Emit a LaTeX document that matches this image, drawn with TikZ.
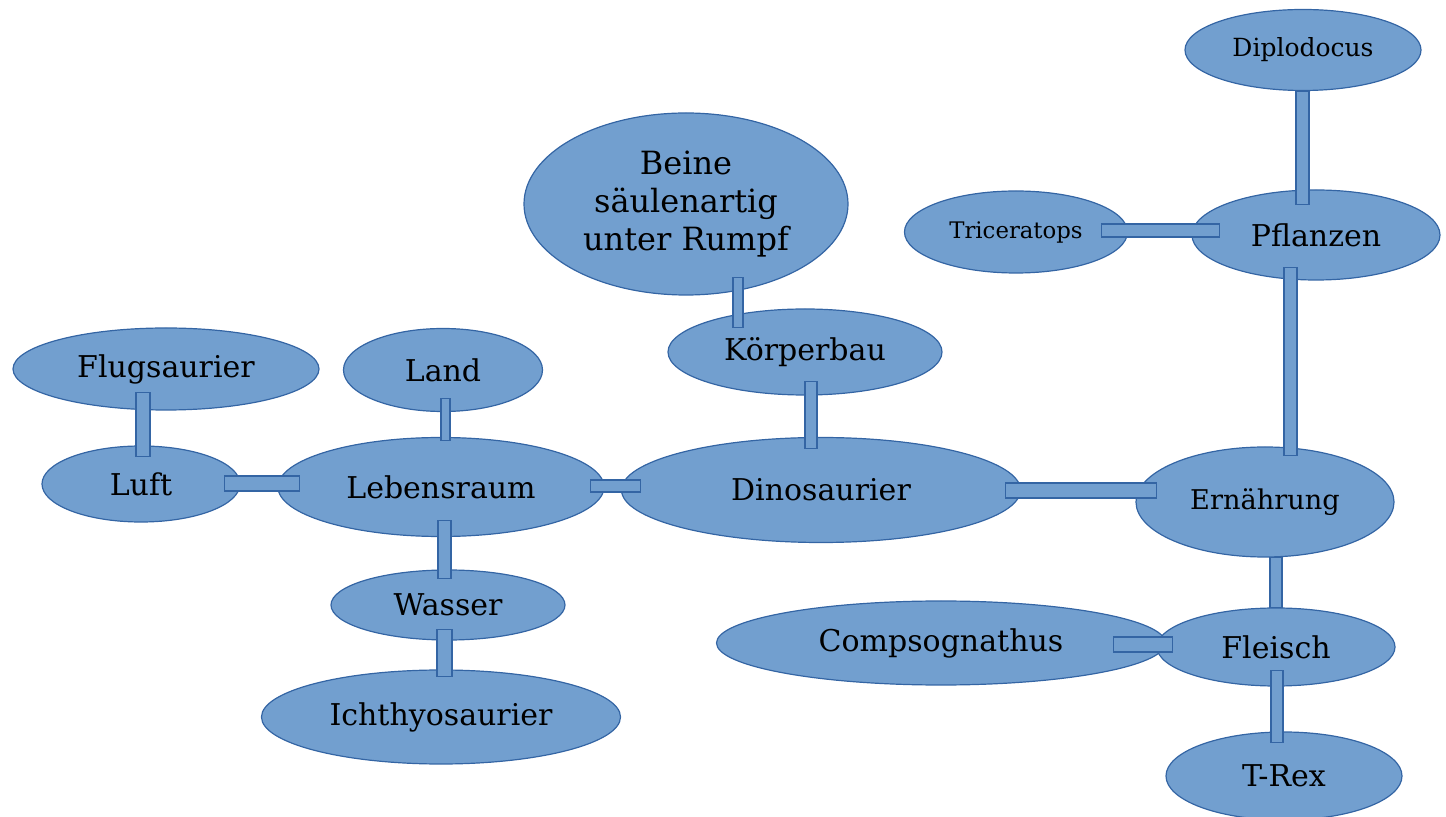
\documentclass[tikz,border=0pt]{standalone}
\usepackage{fontspec}
\setmainfont{DejaVu Serif}
\usetikzlibrary{shapes.geometric,calc}

\definecolor{blobfill}{HTML}{729FCF}
\definecolor{blobline}{HTML}{3465A4}

\tikzset{
    blob/.style={ellipse, draw=blobline, fill=blobfill, line width=0.6pt, inner sep=0pt,
        font=\fontsize{15}{18.5}\selectfont},
    dims/.style 2 args={minimum width=#1*0.5pt, minimum height=#2*0.5pt},
    smalltext/.style={font=\fontsize{#1}{18.8}\selectfont},
    bar/.style={draw=blobline, fill=blobfill, line width=0.6pt}
}

\begin{document}
\begin{tikzpicture}[x=0.5pt,y=-0.5pt]
    \useasboundingbox (0,0) rectangle (1446,817);

    % ellipses
    \node[blob,dims={236}{81},smalltext=12.5] (diplo) at (1303,50) {Diplodocus};
    \node[blob,dims={223}{82},smalltext=11.4] (trice) at (1016,232) {Triceratops};
    \node[blob,dims={248}{90}] (pflanzen) at (1316,235) {Pflanzen};
    \node[blob,dims={324}{182},align=center,smalltext=16] (beine) at (686,204) {Beine\\säulenartig\\unter Rumpf};
    \node[blob,dims={274}{86}] (koerper) at (805,352) {Körperbau};
    \node[blob,dims={306}{82}] (flug) at (166,369) {Flugsaurier};
    \node[blob,dims={199}{83}] (land) at (443,370) {Land};
    \node[blob,dims={198}{76}] (luft) at (141,484) {Luft};
    \node[blob,dims={326}{99}] (leben) at (441,487) {Lebensraum};
    \node[blob,dims={399}{105}] (dino) at (821,490) {Dinosaurier};
    \node[blob,dims={258}{110},smalltext=13.6] (ern) at (1265,502) {Ernährung};
    \node[blob,dims={234}{70}] (wasser) at (448,605) {Wasser};
    \node[blob,dims={359}{94}] (ichthy) at (441,717) {Ichthyosaurier};
    \node[blob,dims={449}{84}] (compso) at (941,643) {Compsognathus};
    \node[blob,dims={238}{78}] (fleisch) at (1276,647) {Fleisch};
    \node[blob,dims={236}{88}] (trex) at (1284,776) {T-Rex};

    % bars
    \draw[bar] ($(diplo.south)+(-7,0)$) rectangle ($(pflanzen.north)+(-7,15)$);
    \draw[bar] ($(trice.east)+(-26.5,-8)$) rectangle ($(pflanzen.west)+(28,2)$);
    \draw[bar] ($(pflanzen.south)+(-32,-13)$) rectangle ($(ern.north)+(32,9)$);
    \draw[bar] ($(beine.south)+(47,-18)$) rectangle ($(koerper.north)+(-62,19)$);
    \draw[bar] ($(koerper.south)+(0,-14)$) rectangle ($(dino.north)+(-4,11.5)$);
    \draw[bar] ($(flug.south)+(-30,-18)$) rectangle ($(luft.north)+(9,11)$);
    \draw[bar] ($(land.south)+(-2,-13.5)$) rectangle ($(leben.north)+(9,3.5)$);
    \draw[bar] ($(luft.east)+(-16,-8)$) rectangle ($(leben.west)+(22,4)$);
    \draw[bar] ($(leben.east)+(-14,-7)$) rectangle ($(dino.west)+(19.5,2)$);
    \draw[bar] ($(dino.east)+(-15.5,-7)$) rectangle ($(ern.west)+(21,-4)$);
    \draw[bar] ($(leben.south)+(-3,-16.5)$) rectangle ($(wasser.north)+(3,9)$);
    \draw[bar] ($(wasser.south)+(-11,-11)$) rectangle ($(ichthy.north)+(11,7)$);
    \draw[bar] ($(ern.south)+(5,0)$) rectangle ($(fleisch.north)+(6,0)$);
    \draw[bar] ($(compso.east)+(-52.5,-6)$) rectangle ($(fleisch.west)+(16,5)$);
    \draw[bar] ($(fleisch.south)+(-5,-16)$) rectangle ($(trex.north)+(-1,11)$);
\end{tikzpicture}
\end{document}
